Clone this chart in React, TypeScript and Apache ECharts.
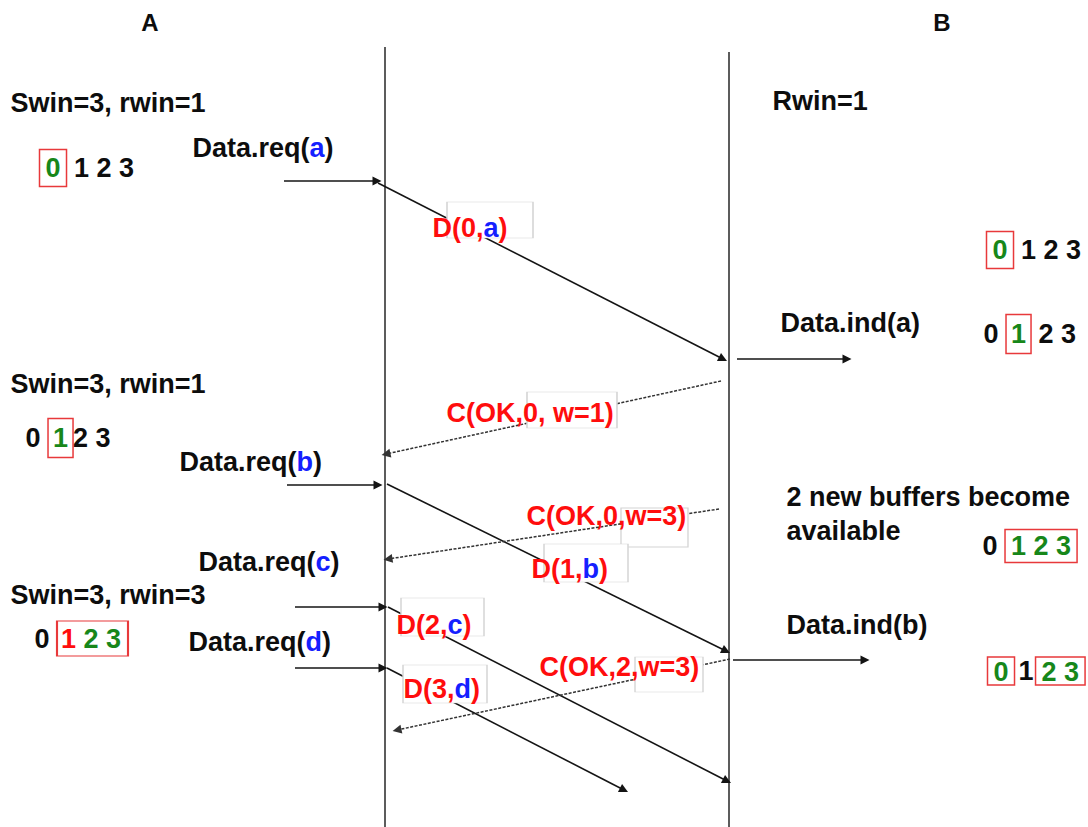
import React, { useEffect, useRef } from 'react';
import * as echarts from 'echarts';

const W = 1088;
const H = 827;

// Lifelines of the two entities
const entityNames = ['A', 'B'];
const entityTitleX = [150, 942];
const entityTitleY = [22, 22];
const lifelineX = [385, 729];
const lifelineTop = [47, 52];
const lifelineBottom = [827, 827];

// Solid arrows: [x1, y1, x2, y2]
const solidArrows: number[][] = [
  [284, 181, 377, 181], // Data.req(a)
  [378, 183, 723, 359], // D(0,a)
  [737, 359, 847, 359], // Data.ind(a)
  [287, 485, 378, 485], // Data.req(b)
  [387, 484, 726, 651], // D(1,b)
  [295, 607, 383, 607], // Data.req(c)
  [295, 668, 383, 668], // Data.req(d)
  [388, 607, 727, 781], // D(2,c)
  [387, 668, 624, 790], // D(3,d)
  [733, 660, 865, 660], // Data.ind(b)
];

// Dashed (control) arrows: [x1, y1, x2, y2]
const dashedArrows: number[][] = [
  [721, 381, 386, 454], // C(OK,0, w=1)
  [719, 509, 388, 559], // C(OK,0,w=3)
  [730, 659, 397, 730], // C(OK,2,w=3)
];

// White label boxes with thin grey frame: [x0, y0, x1, y1]
const labelBoxes: number[][] = [
  [447, 202, 533, 238],
  [527, 392, 617, 428],
  [621, 508, 688, 547],
  [544, 544, 628, 582],
  [401, 598, 484, 636],
  [403, 665, 487, 703],
  [635, 657, 703, 692],
];

// Window frame drawn separately (mixed colours inside): [x0, y0, x1, y1]
const windowFrames: number[][] = [[57, 621, 128, 656]];

// Texts: [rich text, left x, centre y]
const stateTexts: [string, number, number][] = [
  ['Swin=3, rwin=1', 10, 103],
  ['Swin=3, rwin=1', 10, 384],
  ['Swin=3, rwin=3', 10, 595],
  ['Rwin=1', 772, 101],
  ['2 new buffers become', 786, 497],
  ['available', 786, 531],
];

const primitiveTexts: [string, number, number][] = [
  ['Data.req({bl|a})', 192, 148],
  ['Data.req({bl|b})', 179, 462],
  ['Data.req({bl|c})', 198, 562],
  ['Data.req({bl|d})', 188, 642],
  ['Data.ind(a)', 780, 323],
  ['Data.ind(b)', 786, 625],
];

const windowTexts: [string, number, number][] = [
  ['{bA|0}{kl|1 2 3}', 39, 168],
  ['{k|0 }{bN|1}{k|2 3}', 25, 438],
  ['{k|0 }{rp|1 }{g|2 3}', 34, 639],
  ['{bA|0}{kl|1 2 3}', 986, 250],
  ['{k|0 }{bN|1}{kl|2 3}', 983, 334],
  ['{k|0 }{bW|1 2 3}', 982, 546],
  ['{bT|0}{kp|1}{bT|2 3}', 987, 671],
];

const frameTexts: [string, number, number][] = [
  ['{r|D(0,}{bl|a}{r|)}', 432, 228],
  ['{r|C(OK,0, w=1)}', 446, 413],
  ['{r|C(OK,0,w=3)}', 526, 516],
  ['{r|D(1,}{bl|b}{r|)}', 531, 569],
  ['{r|D(2,}{bl|c}{r|)}', 396, 625],
  ['{r|D(3,}{bl|d}{r|)}', 403, 689],
  ['{r|C(OK,2,w=3)}', 539, 667],
];

const FONT = '"Liberation Sans", Arial, Helvetica, sans-serif';
const RED = '#ff0d0d';
const BLUE = '#1420ff';
const GREEN = '#17871a';
const BLACK = '#0d0d0d';
const BOXRED = '#e8393b';

export default function App() {
  const ref = useRef<HTMLDivElement>(null);

  useEffect(() => {
    if (!ref.current) return;
    const chart = echarts.init(ref.current, undefined, { renderer: 'svg' });

    const base = { fontSize: 27, fontWeight: 'bold' as const, fontFamily: FONT, lineHeight: 30, opacity: 1 };
    const boxBase = { ...base, color: GREEN, borderColor: BOXRED, borderWidth: 1.5 };
    const rich: Record<string, any> = {
      r: { ...base, color: RED },
      bl: { ...base, color: BLUE },
      g: { ...base, color: GREEN },
      k: { ...base, color: BLACK },
      kl: { ...base, color: BLACK, padding: [0, 0, 0, 7.5] },
      kp: { ...base, color: BLACK, padding: [0, 2, 0, 4] },
      rp: { ...base, color: RED, padding: [0, 0, 0, 4] },
      bA: { ...boxBase, padding: [5, 6, 5, 6] },
      bN: { ...boxBase, padding: [6, 5, 6, 5] },
      bW: { ...boxBase, padding: [3, 6, 3, 6] },
      bT: { ...boxBase, padding: [1, 6, 0, 6] },
    };

    const textPoint = (t: [string, number, number]) => ({
      value: [t[1], t[2]],
      label: { formatter: t[0] },
    });

    const lifelineData = lifelineX.map((x, i) => ({
      coords: [
        [x, lifelineTop[i]],
        [x, lifelineBottom[i]],
      ],
    }));

    const toLine = (a: number[]) => ({ coords: [[a[0], a[1]], [a[2], a[3]]] });
    const toBox = (b: number[]) => ({
      value: [(b[0] + b[2]) / 2, (b[1] + b[3]) / 2],
      symbolSize: [b[2] - b[0], b[3] - b[1]],
    });

    const textLabel = {
      show: true,
      position: 'right',
      distance: 0,
      fontSize: 27,
      fontWeight: 'bold',
      fontFamily: FONT,
      color: BLACK,
      opacity: 1,
      rich,
    };

    chart.setOption({
      animation: false,
      backgroundColor: '#ffffff',
      grid: { left: 0, right: 0, top: 0, bottom: 0, containLabel: false },
      xAxis: { type: 'value', min: 0, max: W, show: false },
      yAxis: { type: 'value', min: 0, max: H, inverse: true, show: false },
      series: [
        {
          type: 'lines',
          coordinateSystem: 'cartesian2d',
          silent: true,
          z: 1,
          symbol: ['none', 'none'],
          lineStyle: { color: '#262626', width: 1.5, opacity: 1, curveness: 0 },
          data: lifelineData,
        },
        {
          type: 'lines',
          coordinateSystem: 'cartesian2d',
          silent: true,
          z: 1,
          symbol: ['none', 'triangle'],
          symbolSize: [0, 9],
          lineStyle: { color: '#141414', width: 1.6, opacity: 1, curveness: 0 },
          itemStyle: { color: '#141414' },
          data: solidArrows.map(toLine),
        },
        {
          type: 'lines',
          coordinateSystem: 'cartesian2d',
          silent: true,
          z: 1,
          symbol: ['none', 'triangle'],
          symbolSize: [0, 9],
          lineStyle: { color: '#333333', width: 1.5, opacity: 1, type: [3, 1.5], curveness: 0 },
          itemStyle: { color: '#1a1a1a' },
          data: dashedArrows.map(toLine),
        },
        {
          type: 'scatter',
          silent: true,
          z: 2,
          symbol: 'rect',
          clip: false,
          itemStyle: { color: '#ffffff', borderColor: '#d4d4d4', borderWidth: 1, opacity: 1 },
          data: labelBoxes.map(toBox),
        },
        {
          type: 'scatter',
          silent: true,
          z: 2,
          symbol: 'rect',
          clip: false,
          itemStyle: { color: 'rgba(0,0,0,0)', borderColor: BOXRED, borderWidth: 1.5, opacity: 1 },
          data: windowFrames.map(toBox),
        },
        {
          type: 'scatter',
          silent: true,
          z: 3,
          symbolSize: 1,
          clip: false,
          itemStyle: { color: 'rgba(0,0,0,0)', opacity: 1 },
          label: textLabel,
          data: [...stateTexts, ...primitiveTexts, ...windowTexts, ...frameTexts].map(textPoint),
        },
        {
          type: 'scatter',
          silent: true,
          z: 3,
          symbolSize: 1,
          clip: false,
          itemStyle: { color: 'rgba(0,0,0,0)', opacity: 1 },
          label: {
            show: true,
            position: 'inside',
            fontSize: 24,
            fontWeight: 'bold',
            fontFamily: FONT,
            color: BLACK,
            opacity: 1,
            textBorderWidth: 0,
          },
          data: entityNames.map((n, i) => ({
            value: [entityTitleX[i], entityTitleY[i]],
            label: { formatter: n },
          })),
        },
      ],
    });

    return () => {
      chart.dispose();
    };
  }, []);

  return (
    <div
      ref={ref}
      style={{ position: 'absolute', left: 0, top: 0, width: W, height: H, background: '#ffffff' }}
    />
  );
}
